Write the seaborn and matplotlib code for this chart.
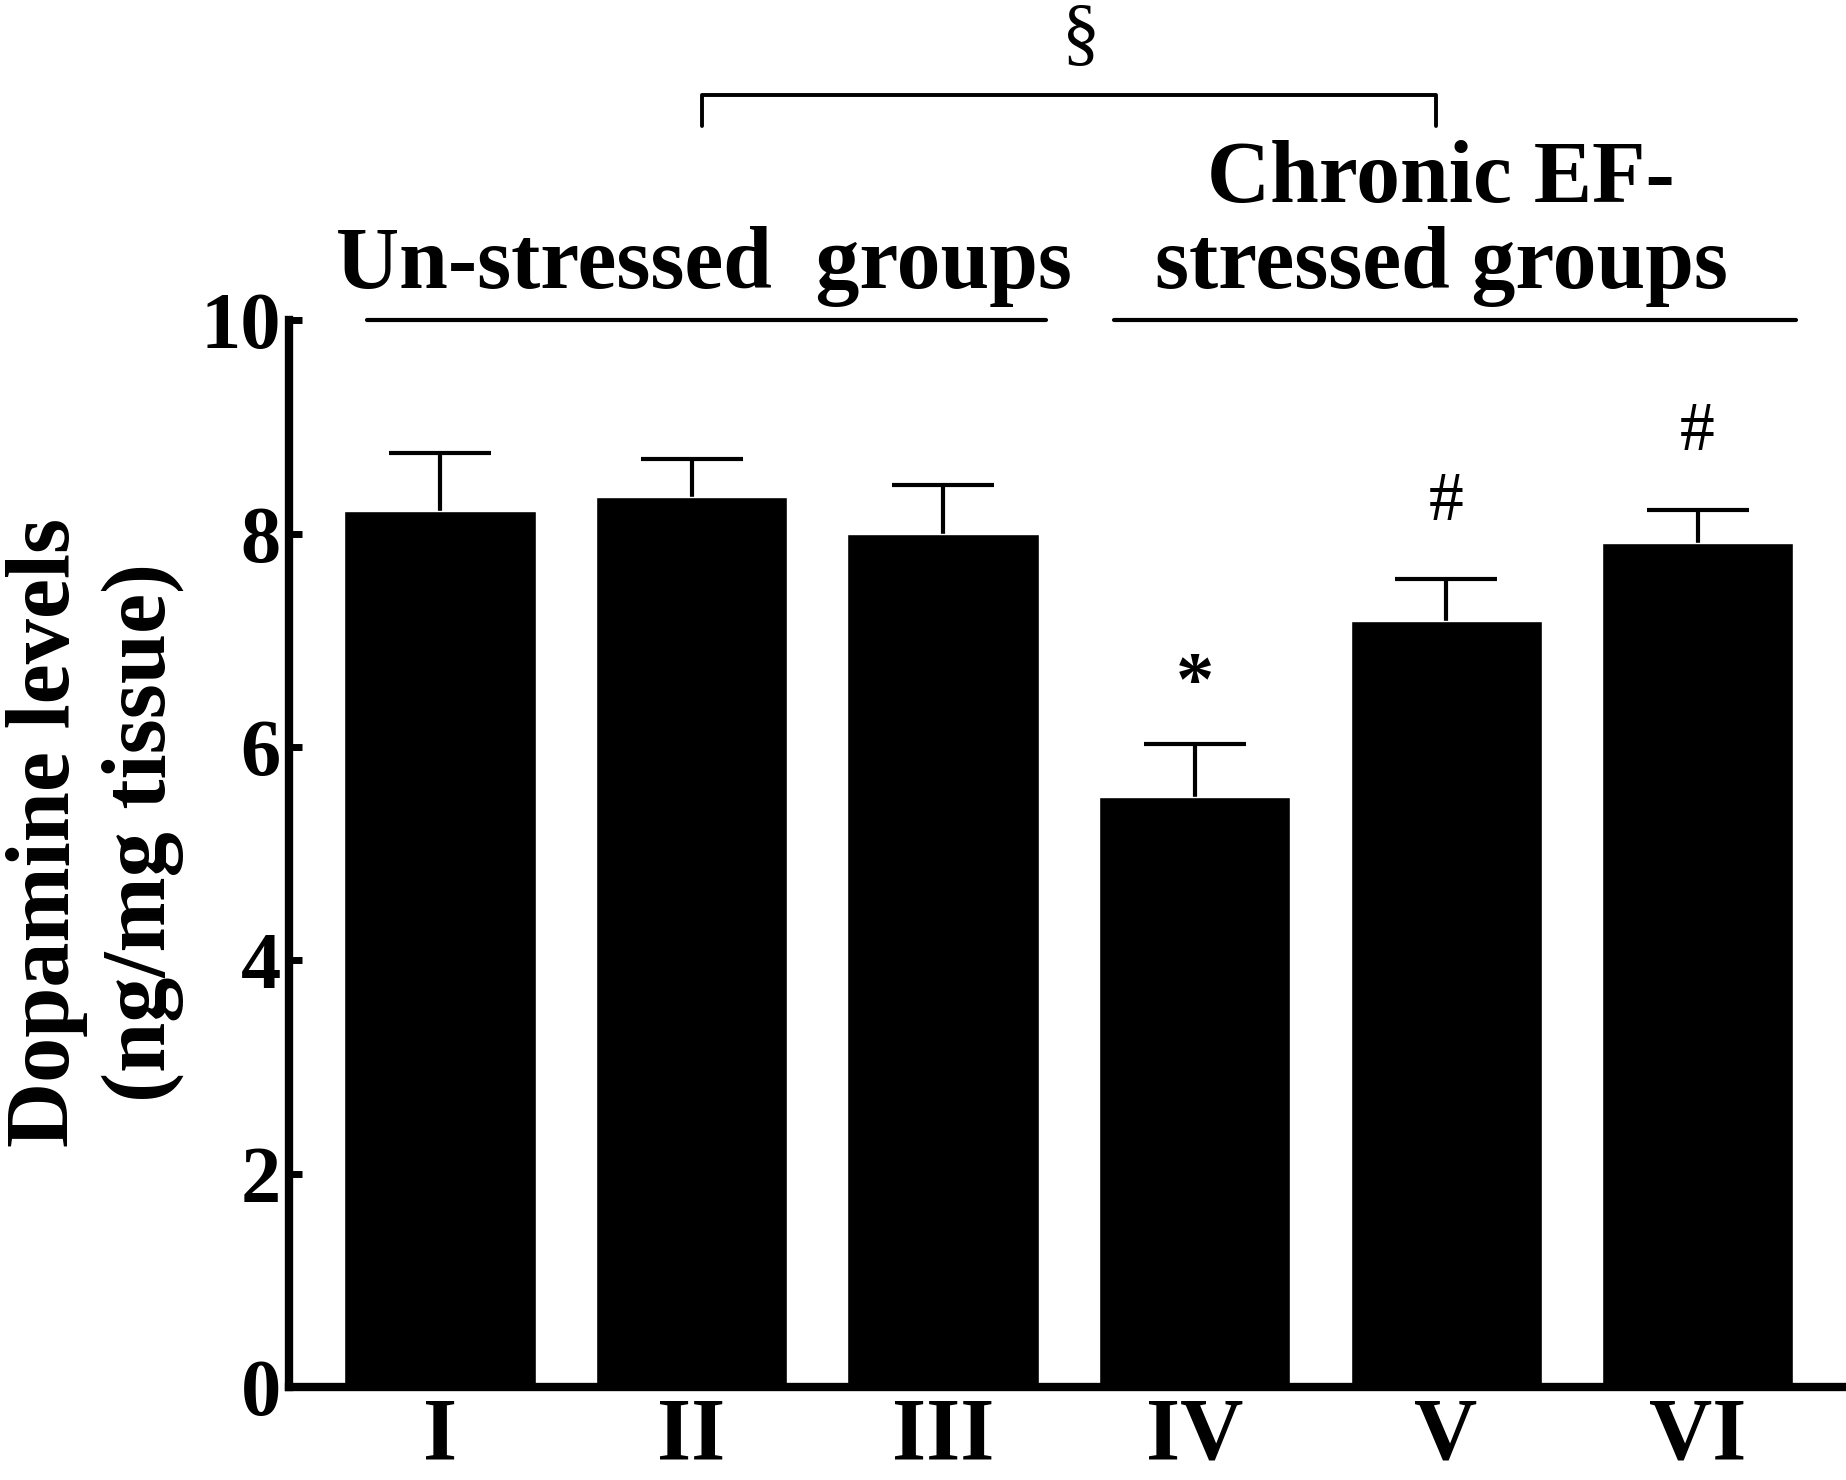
import matplotlib
matplotlib.use("Agg")
import matplotlib.pyplot as plt
import seaborn as sns
import pandas as pd
import numpy as np

# ---- data ----
groups = ["I", "II", "III", "IV", "V", "VI"]
dopamine = [8.21, 8.34, 8.00, 5.53, 7.18, 7.91]
sem = [0.54, 0.36, 0.45, 0.50, 0.39, 0.31]
marks = ["", "", "", "*", "#", "#"]
yticks = [0, 2, 4, 6, 8, 10]
group_titles = ["Un-stressed  groups", "Chronic EF-\nstressed groups"]
ylabel = "Dopamine levels\n(ng/mg tissue)"

sns.set_style("ticks")
plt.rcParams["font.family"] = ["Liberation Serif", "DejaVu Serif"]
plt.rcParams["font.weight"] = "bold"
for k in ("text.color", "axes.labelcolor", "xtick.color", "ytick.color",
          "axes.edgecolor"):
    plt.rcParams[k] = "black"

fig = plt.figure(figsize=(18.46, 14.80), dpi=100)
ax = fig.add_axes([0.1566, 0.0628, 0.8434, 0.7209])

df = pd.DataFrame({"group": groups, "dopamine": dopamine})
sns.barplot(data=df, x="group", y="dopamine", color="black", width=0.76,
            errorbar=None, saturation=1, ax=ax, zorder=2)
eb = ax.errorbar(x=np.arange(len(groups)), y=dopamine,
                 yerr=[np.zeros(len(sem)), sem], fmt="none", ecolor="black",
                 elinewidth=3, capsize=37, capthick=3, zorder=1)
# only the upper cap is drawn in the reference
eb[1][0].set_visible(False)

ax.set_xlim(-0.60, 5.59)
ax.set_ylim(0, 10)
ax.set_yticks(yticks)
ax.set_xlabel("")
ax.tick_params(axis="y", direction="in", length=9, width=5, labelsize=58, pad=6)
ax.tick_params(axis="x", length=0, labelsize=63, pad=7)
for lab in ax.get_xticklabels() + ax.get_yticklabels():
    lab.set_fontweight("bold")
sns.despine(ax=ax)
for s in ("left", "bottom"):
    ax.spines[s].set_linewidth(6)
    ax.spines[s].set_color("black")

ax.set_ylabel(ylabel, fontsize=65, fontweight="bold")
ax.yaxis.set_label_coords(-0.1246, 0.52)
ax.yaxis.label.set_va("center")

# significance marks above error bars
offsets = {"*": (42, 55, "bold"), "#": (55, 50, "normal")}
for i, m in enumerate(marks):
    if m:
        off, fs, fw = offsets[m]
        ax.annotate(m, xy=(i, dopamine[i] + sem[i]), xytext=(0, off),
                    textcoords="offset points", ha="center", va="center",
                    fontsize=fs, fontweight=fw, annotation_clip=False)

# group underlines and titles
ax.plot([-0.29, 2.41], [10, 10], color="black", lw=3, clip_on=False)
ax.plot([2.68, 5.39], [10, 10], color="black", lw=3, clip_on=False)
ax.text(1.05, 10.30, group_titles[0], ha="center", va="baseline",
        fontsize=63, fontweight="bold", clip_on=False)
ax.text(3.98, 10.30, group_titles[1], ha="center", va="baseline",
        multialignment="center", linespacing=1.08,
        fontsize=63, fontweight="bold", clip_on=False)

# bracket between groups
ax.plot([1.04, 1.04, 3.96, 3.96], [11.82, 12.11, 12.11, 11.82],
        color="black", lw=2.8, clip_on=False)
ax.text(2.55, 12.64, "§", ha="center", va="center", fontsize=55,
        fontweight="normal", clip_on=False)

fig.savefig("out.png", dpi=100)
